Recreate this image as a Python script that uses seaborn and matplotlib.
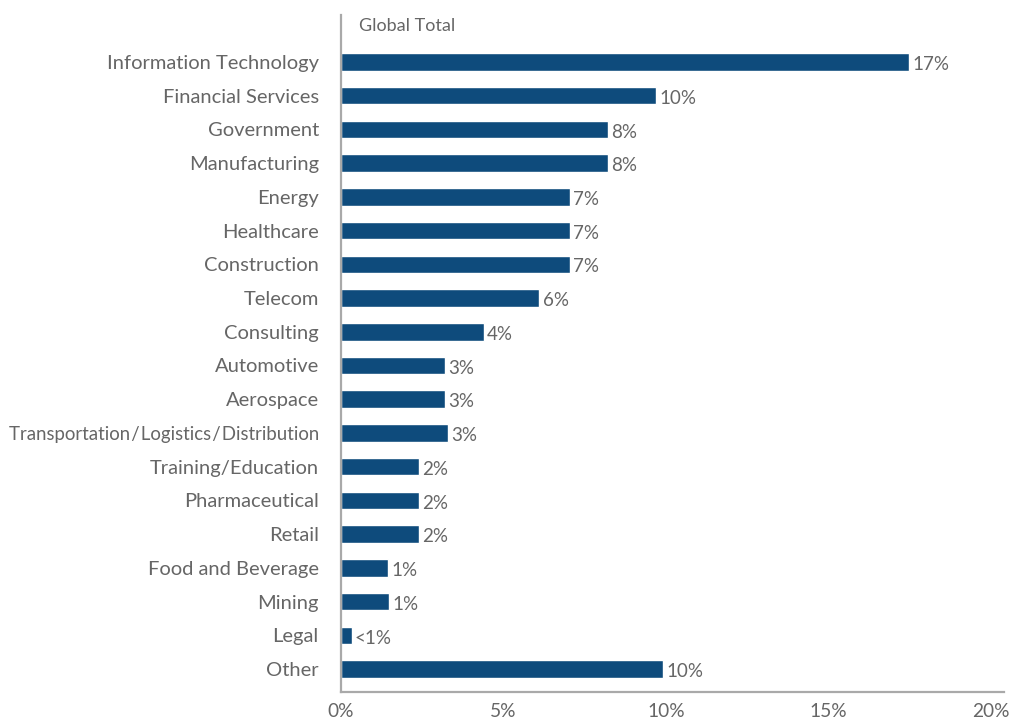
import matplotlib
matplotlib.use("Agg")
import matplotlib.pyplot as plt
import seaborn as sns
import pandas as pd

categories = [
    "Information Technology", "Financial Services", "Government", "Manufacturing",
    "Energy", "Healthcare", "Construction", "Telecom", "Consulting", "Automotive",
    "Aerospace", "Transportation\u200a/\u200aLogistics\u200a/\u200aDistribution",
    "Training/Education", "Pharmaceutical", "Retail", "Food and Beverage",
    "Mining", "Legal", "Other",
]
shares = [17.49, 9.7, 8.2, 8.2, 7.05, 7.05, 7.05, 6.1, 4.4, 3.2,
          3.2, 3.3, 2.4, 2.4, 2.4, 1.45, 1.48, 0.33, 9.9]
x_ticks = [0, 5, 10, 15, 20]
x_tick_labels = ["0%", "5%", "10%", "15%", "20%"]
panel_title = "Global Total"

bar_color = "#0e4b7c"
text_color = "#666666"
axis_color = "#a9a9a9"

sns.set_theme(style="white")
plt.rcParams["font.family"] = ["Lato", "DejaVu Sans"]

df = pd.DataFrame({"category": categories, "share": shares})

fig = plt.figure(figsize=(10.16, 7.22), dpi=100)
ax = fig.add_axes([341 / 1016, 30 / 722, 663 / 1016, 677 / 722])

sns.barplot(data=df, x="share", y="category", color=bar_color, width=0.52,
            saturation=1, ax=ax)

for patch, v in zip(ax.patches, shares):
    label = "<1%" if v < 1 else f"{round(v)}%"
    ax.text(patch.get_width() + 0.1, patch.get_y() + patch.get_height() / 2 + 0.08,
            label, va="center", ha="left", fontsize=13.5, color=text_color)

ax.text(0.55, -1.05, panel_title, va="center", ha="left", fontsize=13,
        color=text_color)

ax.set_xlim(0, 20.4)
ax.set_ylim(18.68, -1.39)
ax.set_xticks(x_ticks)
ax.set_xticklabels(x_tick_labels, fontsize=13.8, color=text_color)
ax.tick_params(axis="x", length=0, pad=8)
ax.tick_params(axis="y", length=0, pad=16, labelsize=14.5, labelcolor=text_color)
# the longest category name is set a touch smaller so it stays inside the figure
for lbl in ax.get_yticklabels():
    if lbl.get_text().startswith("Transportation"):
        lbl.set_fontsize(13.4)
ax.set_xlabel("")
ax.set_ylabel("")

for side in ["top", "right"]:
    ax.spines[side].set_visible(False)
for side in ["left", "bottom"]:
    ax.spines[side].set_color(axis_color)
    ax.spines[side].set_linewidth(1.6)

fig.savefig("out.png", dpi=100)
